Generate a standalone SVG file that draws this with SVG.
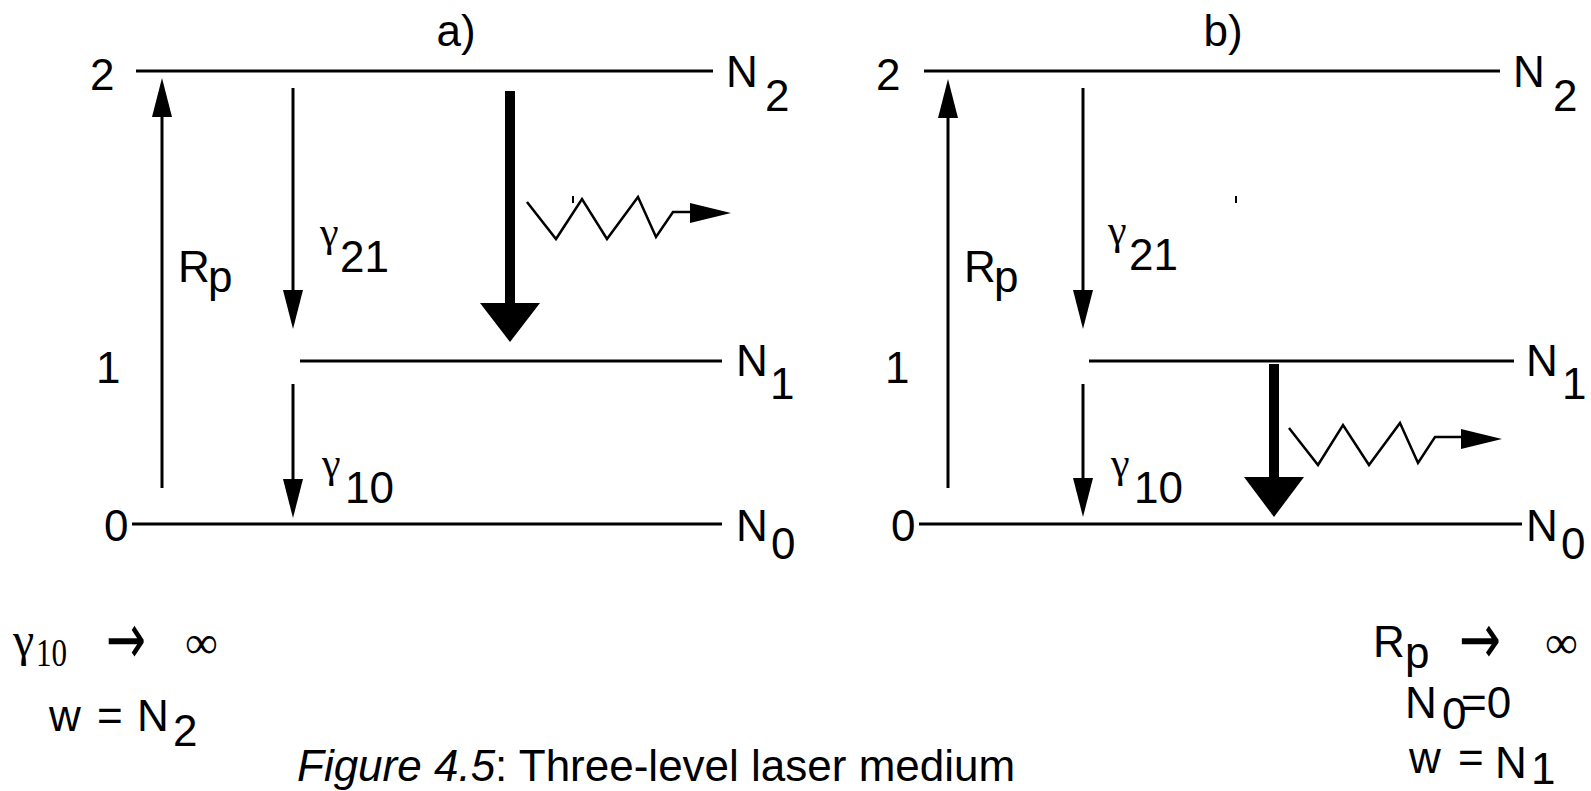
<svg xmlns="http://www.w3.org/2000/svg" width="1591" height="791" viewBox="0 0 1591 791">
<defs>
<style>
.lvl{stroke:#000;stroke-width:3;fill:none}
.ar{stroke:#000;stroke-width:3;fill:none;marker-end:url(#ah)}
.thick{stroke:#000;stroke-width:10;fill:none}
.zz{stroke:#000;stroke-width:2.5;fill:none;stroke-linejoin:miter}
.t{font-family:"Liberation Sans",Arial,sans-serif;font-size:44px;fill:#000}
.g{font-family:"Liberation Serif","Times New Roman",serif;fill:#000}
.arr{font-family:"DejaVu Sans",sans-serif;font-size:72px;fill:#000}
</style>
<marker id="ah" markerUnits="userSpaceOnUse" markerWidth="40" markerHeight="20" refX="0" refY="10" orient="auto" overflow="visible">
<path d="M0,0 L39,10 L0,20 Z" fill="#000"/>
</marker>
</defs>
<rect width="1591" height="791" fill="#fff"/>

<g id="connectors">
<line class="ar" x1="162" y1="488" x2="162" y2="117"/>
<line class="ar" x1="293" y1="88" x2="293" y2="290"/>
<line class="ar" x1="293" y1="384" x2="293" y2="479"/>
<line class="thick" x1="510" y1="91" x2="510" y2="304"/>
<polygon points="480,303 540,303 510,342" fill="#000"/>
<polyline class="zz" points="527,202 556,239 582,199 607,239 638,197 656,237 673,212 691,212"/>
<polygon points="690,203 731,213 690,223" fill="#000"/>
<line x1="573" y1="196" x2="573" y2="203" stroke="#000" stroke-width="2"/>
<line class="ar" x1="948" y1="488" x2="948" y2="118"/>
<line class="ar" x1="1083" y1="88" x2="1083" y2="290"/>
<line class="ar" x1="1083" y1="384" x2="1083" y2="478"/>
<line class="thick" x1="1274" y1="364" x2="1274" y2="478"/>
<polygon points="1244,477 1304,477 1274,517" fill="#000"/>
<polyline class="zz" points="1289,428 1318,465 1343,425 1369,465 1400,423 1418,463 1435,437 1462,437"/>
<polygon points="1461,429 1502,439 1461,449" fill="#000"/>
<line x1="1236" y1="196" x2="1236" y2="203" stroke="#000" stroke-width="2"/>
</g>

<g id="panel-a">
<text class="t" x="456" y="46" text-anchor="middle">a)</text>
<g id="a-level2">
<line class="lvl" x1="136" y1="71" x2="713" y2="71"/>
<text class="t" x="90" y="90">2</text>
<text class="t" x="726" y="87">N</text>
<text class="t" x="765" y="111">2</text>
</g>
<g id="a-level1">
<line class="lvl" x1="300" y1="361" x2="722" y2="361"/>
<text class="t" x="96" y="383">1</text>
<text class="t" x="736" y="376">N</text>
<text class="t" x="770" y="399">1</text>
</g>
<g id="a-level0">
<line class="lvl" x1="132" y1="524" x2="722" y2="524"/>
<text class="t" x="104" y="541">0</text>
<text class="t" x="736" y="541">N</text>
<text class="t" x="771" y="559">0</text>
</g>
<g id="a-labels">
<text class="t" x="178" y="282">R</text>
<text class="t" x="208" y="292">p</text>
<text class="g" x="320" y="246" font-size="42">γ</text>
<text class="t" x="340" y="272" font-size="46">21</text>
<text class="g" x="322" y="477" font-size="42">γ</text>
<text class="t" x="345" y="503" font-size="46">10</text>
</g>
</g>

<g id="panel-b">
<text class="t" x="1223" y="46" text-anchor="middle">b)</text>
<g id="b-level2">
<line class="lvl" x1="924" y1="71" x2="1500" y2="71"/>
<text class="t" x="876" y="90">2</text>
<text class="t" x="1513" y="87">N</text>
<text class="t" x="1553" y="111">2</text>
</g>
<g id="b-level1">
<line class="lvl" x1="1089" y1="361" x2="1514" y2="361"/>
<text class="t" x="885" y="383">1</text>
<text class="t" x="1526" y="376">N</text>
<text class="t" x="1562" y="399">1</text>
</g>
<g id="b-level0">
<line class="lvl" x1="919" y1="524" x2="1522" y2="524"/>
<text class="t" x="891" y="541">0</text>
<text class="t" x="1526" y="541">N</text>
<text class="t" x="1561" y="559">0</text>
</g>
<g id="b-labels">
<text class="t" x="964" y="282">R</text>
<text class="t" x="994" y="292">p</text>
<text class="g" x="1108" y="244" font-size="42">γ</text>
<text class="t" x="1129" y="270" font-size="46">21</text>
<text class="g" x="1111" y="477" font-size="42">γ</text>
<text class="t" x="1134" y="503" font-size="46">10</text>
</g>
</g>

<g id="cond-a">
<text class="g" x="13" y="656" font-size="48">γ</text>
<text class="g" x="36" y="666" font-size="40" textLength="31" lengthAdjust="spacingAndGlyphs">10</text>
<text class="arr" x="106" y="664" textLength="40" lengthAdjust="spacingAndGlyphs">→</text>
<text class="g" x="185" y="658" font-size="46">∞</text>
<text class="t" x="49" y="731" font-size="48">w</text>
<text class="t" x="97" y="731" font-size="48">=</text>
<text class="t" x="137" y="731" font-size="48">N</text>
<text class="t" x="173" y="746" font-size="28">2</text>
</g>

<g id="cond-b">
<text class="t" x="1373" y="657" font-size="42">R</text>
<text class="t" x="1405" y="668" font-size="34">p</text>
<text class="arr" x="1459" y="664" textLength="42" lengthAdjust="spacingAndGlyphs">→</text>
<text class="g" x="1545" y="658" font-size="46">∞</text>
<text class="t" x="1405" y="718" font-size="45">N</text>
<text class="t" x="1442" y="729" font-size="26">0</text>
<text class="t" x="1461" y="718" font-size="45">=0</text>
<text class="t" x="1409" y="773" font-size="46">w</text>
<text class="t" x="1458" y="773" font-size="46">=</text>
<text class="t" x="1495" y="778" font-size="46">N</text>
<text class="t" x="1531" y="784" font-size="27">1</text>
</g>

<g id="caption">
<text class="t" x="297" y="781" font-size="58"><tspan font-style="italic">Figure 4.5</tspan>: Three-level laser medium</text>
</g>
</svg>
